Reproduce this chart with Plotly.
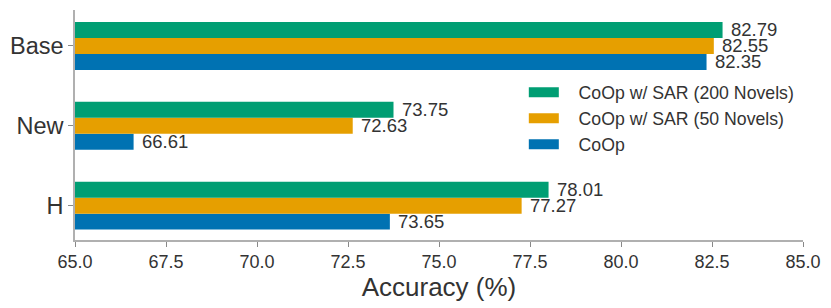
import plotly.graph_objects as go

categories = ["Base", "New", "H"]
coop = [82.35, 66.61, 73.65]
sar50 = [82.55, 72.63, 77.27]
sar200 = [82.79, 73.75, 78.01]
x_ticks = [65.0, 67.5, 70.0, 72.5, 75.0, 77.5, 80.0, 82.5, 85.0]

series = [
    ("CoOp", coop, "#0072B2"),
    ("CoOp w/ SAR (50 Novels)", sar50, "#E69F00"),
    ("CoOp w/ SAR (200 Novels)", sar200, "#009E73"),
]

FONT = "Liberation Sans, Arial, sans-serif"
TXT = "#333333"
BAR_PX = 16  # pixel thickness of a single bar (for label offsets)

fig = go.Figure()
annotations = []
for i, (name, vals, col) in enumerate(series):
    fig.add_trace(go.Bar(
        y=categories, x=vals, orientation="h", name=name,
        marker=dict(color=col, line=dict(width=0)),
        showlegend=False,
    ))
    for cat, v in zip(categories, vals):
        annotations.append(dict(
            x=v, y=cat, xref="x", yref="y", text=f"{v:.2f}",
            showarrow=False, xanchor="left", yanchor="middle",
            xshift=6, yshift=(i - 1) * BAR_PX,
            font=dict(size=18.5, color=TXT, family=FONT),
        ))

# legend entries (wide swatches)
for name, vals, col in reversed(series):
    fig.add_trace(go.Scatter(
        x=[None], y=[None], mode="lines", name="\u00a0\u00a0\u00a0" + name,
        line=dict(color=col, width=10), showlegend=True,
    ))

# page body has an 8px default margin, so the figure is sized to 823x300
fig.update_layout(
    width=823, height=300,
    margin=dict(l=67, r=28, t=2, b=68, autoexpand=False),
    paper_bgcolor="white", plot_bgcolor="white",
    barmode="group", bargap=0.4, bargroupgap=0,
    font=dict(family=FONT, color=TXT),
    annotations=annotations,
    legend=dict(x=0.6165, y=0.721, xanchor="left", yanchor="top",
                font=dict(size=17.7, color=TXT, family=FONT),
                bgcolor="rgba(0,0,0,0)", borderwidth=0),
    showlegend=True,
)

fig.update_xaxes(
    range=[65, 85], tickvals=x_ticks, ticktext=[f"{t:.1f}" for t in x_ticks],
    showgrid=False, zeroline=False, automargin=False,
    showline=True, linecolor="#b0b0b0", linewidth=1.5,
    ticks="outside", ticklen=5, tickcolor="#888888", tickwidth=1.2,
    tickfont=dict(size=18, color=TXT, family=FONT),
    title=dict(text="Accuracy (%)", font=dict(size=26, color=TXT, family=FONT), standoff=0),
)
fig.update_yaxes(
    categoryorder="array", categoryarray=categories[::-1],
    range=[-0.43, 2.45],
    showgrid=False, zeroline=False, automargin=False,
    showline=True, linecolor="#b0b0b0", linewidth=1.5,
    ticks="outside", ticklen=5, tickcolor="#888888", tickwidth=1.2,
    tickfont=dict(size=23.5, color=TXT, family=FONT),
)

fig.write_html("out.html")
